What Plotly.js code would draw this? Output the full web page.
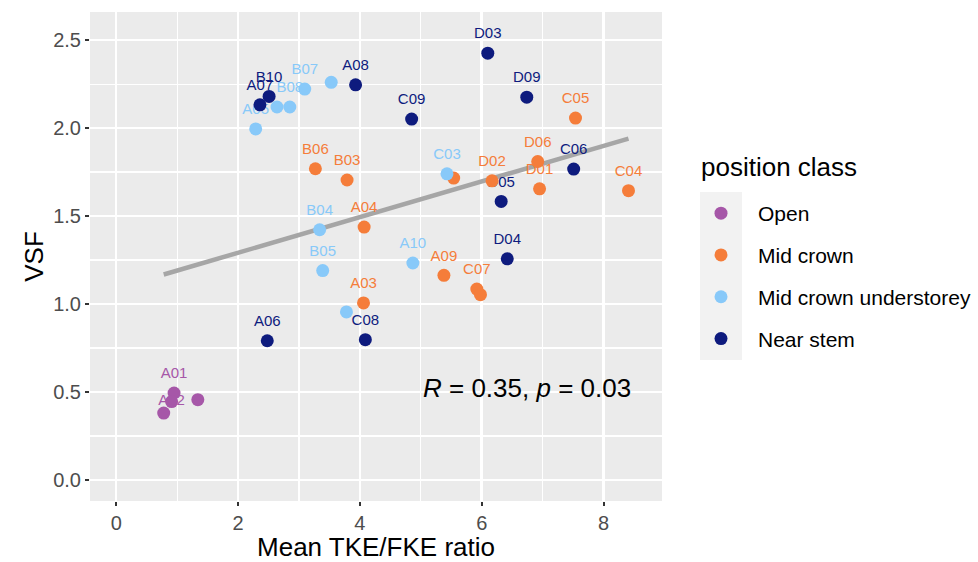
<!DOCTYPE html>
<html>
<head>
<meta charset="utf-8">
<script src="https://cdn.plot.ly/plotly-3.0.1.min.js"></script>
<style>html,body{margin:0;padding:0;background:#fff;}#chart{width:978px;height:562px;}</style>
</head>
<body>
<div id="chart"></div>
<script>
// ---- data ----
const classNames = ["Open", "Mid crown", "Mid crown understorey", "Near stem"];

const openX     = [0.95, 0.91, 0.78, 1.34];
const openY     = [0.494, 0.445, 0.38, 0.456];
const openLab   = ["A01", "A02", "", ""];

const midX      = [3.27, 3.79, 4.07, 4.06, 5.54, 6.17, 6.92, 6.95, 7.54, 8.41, 5.38, 5.92, 5.98];
const midY      = [1.769, 1.705, 1.437, 1.006, 1.716, 1.70, 1.81, 1.655, 2.057, 1.644, 1.163, 1.085, 1.053];
const midLab    = ["B06", "B03", "A04", "A03", "", "D02", "D06", "D01", "C05", "C04", "A09", "C07", ""];

const undX      = [2.29, 2.64, 2.85, 3.095, 3.53, 3.34, 3.39, 3.78, 4.87, 5.43];
const undY      = [1.995, 2.12, 2.12, 2.222, 2.26, 1.422, 1.19, 0.955, 1.233, 1.74];
const undLab    = ["A05", "", "B08", "B07", "", "B04", "B05", "", "A10", "C03"];

const nearX     = [2.36, 2.51, 3.93, 6.10, 6.74, 4.85, 7.51, 6.32, 6.42, 2.48, 4.09];
const nearY     = [2.132, 2.18, 2.246, 2.426, 2.176, 2.051, 1.767, 1.583, 1.257, 0.791, 0.797];
const nearLab   = ["A07", "B10", "A08", "D03", "D09", "C09", "C06", "D05", "D04", "A06", "C08"];

const xTickVals = [0, 2, 4, 6, 8];
const yTickVals = [0, 0.5, 1, 1.5, 2, 2.5];
const yTickText = ["0.0", "0.5", "1.0", "1.5", "2.0", "2.5"];
const corLabel  = "<i>R</i> = 0.35, <i>p</i> = 0.03";
const legendTitle = "position class";

// ---- styles ----
const colors = ["#A657A8", "#F57D3A", "#88C9F9", "#0E1B7E"];
const FONT = "Liberation Sans, Arial, Helvetica, sans-serif";
// label placement (style only): the A02 label sits behind the Open cluster as in the reference
const labelPos = (lab) => lab === "A02" ? "middle center" : "top center";

const groups = [
  {x: openX, y: openY, lab: openLab},
  {x: midX,  y: midY,  lab: midLab},
  {x: undX,  y: undY,  lab: undLab},
  {x: nearX, y: nearY, lab: nearLab}
];

// linear fit from all points
const allX = [].concat(openX, midX, undX, nearX);
const allY = [].concat(openY, midY, undY, nearY);
const n = allX.length;
const mx = allX.reduce((a,b)=>a+b,0)/n, my = allY.reduce((a,b)=>a+b,0)/n;
let sxy = 0, sxx = 0;
for (let i=0;i<n;i++){ sxy += (allX[i]-mx)*(allY[i]-my); sxx += (allX[i]-mx)**2; }
const slope = sxy/sxx, icpt = my - slope*mx;
const xMin = Math.min(...allX), xMax = Math.max(...allX);
const fitX = [], fitY = [];
for (let k=0;k<=50;k++){ const xv = xMin + (xMax-xMin)*k/50; fitX.push(xv); fitY.push(icpt+slope*xv); }

const traces = [];
traces.push({x: fitX, y: fitY, mode: "lines", line: {color: "#A6A6A6", width: 4.5}, showlegend: false, hoverinfo: "skip"});
groups.forEach((g, i) => {
  traces.push({x: g.x, y: g.y, mode: "markers+text", text: g.lab, textposition: g.lab.map(labelPos),
    marker: {size: 16, opacity: 0},
    textfont: {family: FONT, size: 15, color: colors[i]}, showlegend: false, hoverinfo: "skip", cliponaxis: false});
});
groups.forEach((g, i) => {
  traces.push({x: g.x, y: g.y, mode: "markers", name: classNames[i], legendgroup: "g" + i,
    marker: {color: colors[i], size: 13}, text: g.lab});
});

const L = 90, R = 316, T = 12, B = 61;
const W = 978, H = 562;
const pw = W - L - R, ph = H - T - B;
const px = v => (v - L) / pw;
const py = v => (H - B - v) / ph;

const layout = {
  width: W, height: H,
  margin: {l: L, r: R, t: T, b: B, autoexpand: false},
  paper_bgcolor: "#ffffff",
  plot_bgcolor: "#EBEBEB",
  font: {family: FONT, color: "#000000"},
  showlegend: true,
  xaxis: {
    range: [-0.43, 8.96], tickvals: xTickVals, ticktext: xTickVals.map(String),
    showgrid: true, gridcolor: "#ffffff", gridwidth: 2.4,
    minor: {dtick: 1, tick0: 0, showgrid: true, gridcolor: "#ffffff", gridwidth: 1.2},
    zeroline: false, showline: false,
    ticks: "outside", ticklen: 4, tickwidth: 2, tickcolor: "#333333",
    tickfont: {family: FONT, size: 20, color: "#4D4D4D"},
    title: {text: "Mean TKE/FKE ratio", font: {family: FONT, size: 26, color: "#000"}, standoff: 7}
  },
  yaxis: {
    range: [-0.12, 2.66], tickvals: yTickVals, ticktext: yTickText,
    showgrid: true, gridcolor: "#ffffff", gridwidth: 2.4,
    minor: {dtick: 0.25, tick0: 0, showgrid: true, gridcolor: "#ffffff", gridwidth: 1.2},
    zeroline: false, showline: false,
    ticks: "outside", ticklen: 4, tickwidth: 2, tickcolor: "#333333",
    tickfont: {family: FONT, size: 20, color: "#4D4D4D"},
    title: {text: "VSF", font: {family: FONT, size: 26, color: "#000"}, standoff: 2}
  },
  legend: {
    xref: "container", yref: "container",
    x: 684 / W, xanchor: "left", y: (H - 193) / H, yanchor: "top",
    bgcolor: "rgba(0,0,0,0)",
    font: {family: FONT, size: 21, color: "#000"},
    traceorder: "grouped", tracegroupgap: 11.5, itemwidth: 64
  },
  shapes: [{type: "rect", xref: "paper", yref: "paper", x0: px(700), x1: px(742), y0: py(360), y1: py(192),
    fillcolor: "#F2F2F2", line: {width: 0}, layer: "below"}],
  annotations: [
    {x: 5.0, y: 0.52, xref: "x", yref: "y", xanchor: "left", yanchor: "middle", showarrow: false,
     text: corLabel, font: {family: FONT, size: 26, color: "#000"}},
    {x: px(699), y: py(167), xref: "paper", yref: "paper", xanchor: "left", yanchor: "middle", showarrow: false,
     text: legendTitle, font: {family: FONT, size: 26, color: "#000"}}
  ]
};

Plotly.newPlot("chart", traces, layout, {displayModeBar: false, staticPlot: true});
</script>
</body>
</html>
